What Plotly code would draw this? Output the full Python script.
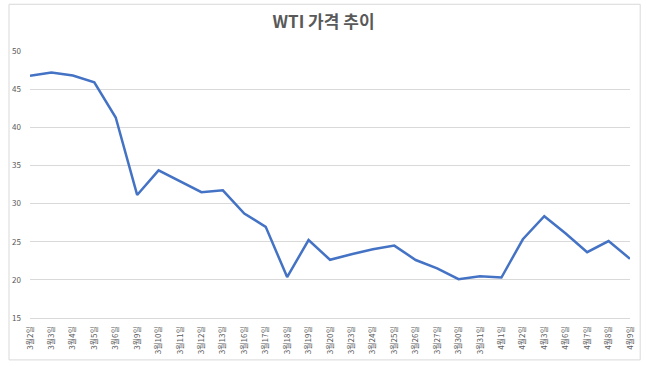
import plotly.graph_objects as go

dates = ["3월2일", "3월3일", "3월4일", "3월5일", "3월6일", "3월9일", "3월10일", "3월11일",
         "3월12일", "3월13일", "3월16일", "3월17일", "3월18일", "3월19일", "3월20일",
         "3월23일", "3월24일", "3월25일", "3월26일", "3월27일", "3월30일", "3월31일",
         "4월1일", "4월2일", "4월3일", "4월6일", "4월7일", "4월8일", "4월9일"]
wti = [46.75, 47.18, 46.78, 45.90, 41.28, 31.13, 34.36, 32.98,
       31.50, 31.73, 28.70, 26.95, 20.37, 25.22, 22.63,
       23.36, 24.01, 24.49, 22.60, 21.51, 20.09, 20.48,
       20.31, 25.32, 28.34, 26.08, 23.63, 25.09, 22.76]
y_ticks = [15, 20, 25, 30, 35, 40, 45, 50]

fig = go.Figure()
fig.add_trace(go.Scatter(
    x=dates, y=wti, mode="lines",
    line=dict(color="#4472C4", width=2.5),
    hoverinfo="x+y",
))

font_family = "Noto Sans CJK KR, Noto Sans, sans-serif"
fig.update_layout(
    width=647, height=366,
    margin=dict(l=25, r=15, t=51, b=47),
    paper_bgcolor="white", plot_bgcolor="white",
    showlegend=False,
    title=dict(text="<b>WTI 가격 추이</b>", x=0.5, xanchor="center",
               y=0.94, yanchor="middle",
               font=dict(family=font_family, size=17, color="#595959")),
    xaxis=dict(type="category", tickangle=-90, showgrid=False,
               showline=True, linecolor="#d9d9d9", linewidth=1,
               tickfont=dict(family=font_family, size=8, color="#595959"),
               ticks="", ticklabelstandoff=4, fixedrange=True),
    yaxis=dict(range=[15, 50], tickvals=y_ticks, showgrid=True,
               gridcolor="#d9d9d9", gridwidth=1, zeroline=False,
               tickfont=dict(family=font_family, size=8, color="#595959"),
               ticks="", ticklabelstandoff=8, fixedrange=True),
    shapes=[dict(type="rect", xref="paper", yref="paper",
                 x0=-0.035, x1=1.017, y0=-0.157, y1=1.175,
                 line=dict(color="#d9d9d9", width=1))],
)

fig.write_html("out.html")
